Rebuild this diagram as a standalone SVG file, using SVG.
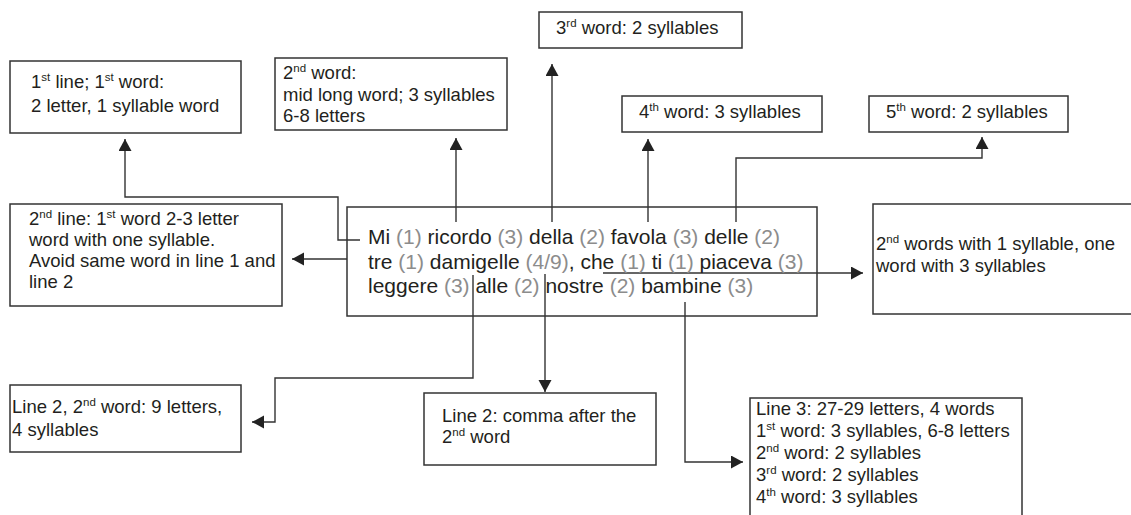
<svg xmlns="http://www.w3.org/2000/svg" width="1131" height="515" viewBox="0 0 1131 515">
<style>
.box{fill:#fff;stroke:#333;stroke-width:1.5}
.t{font-family:"Liberation Sans",Arial,sans-serif;font-size:18.5px;fill:#231f20}
.m{font-family:"Liberation Sans",Arial,sans-serif;font-size:21px;fill:#231f20}
.g{fill:#8c8c8c}
.s{font-size:11.5px}
.c{fill:none;stroke:#333;stroke-width:1.4}
</style>
<defs>
<marker id="ah" markerUnits="userSpaceOnUse" markerWidth="12" markerHeight="14" refX="12" refY="6.5" orient="auto">
<path d="M0,0 L12,6.5 L0,13 z" fill="#222"/>
</marker>
</defs>
<rect width="1131" height="515" fill="#fff"/>

<g id="connectors">
<path class="c" d="M360,240 H338 V197 H125 V139" marker-end="url(#ah)"/>
<path class="c" d="M456,222 V138" marker-end="url(#ah)"/>
<path class="c" d="M552,222 V64" marker-end="url(#ah)"/>
<path class="c" d="M648,222 V139" marker-end="url(#ah)"/>
<path class="c" d="M736,222 V158 H982 V137" marker-end="url(#ah)"/>
<path class="c" d="M347,259 H292" marker-end="url(#ah)"/>
<path class="c" d="M603,273 H863" marker-end="url(#ah)"/>
<path class="c" d="M473,275 V378 H275 V422 H252" marker-end="url(#ah)"/>
<path class="c" d="M545,274 V392" marker-end="url(#ah)"/>
<path class="c" d="M685,302 V462 H743" marker-end="url(#ah)"/>
</g>

<g id="main">
<rect class="box" x="347" y="207" width="470" height="109" fill="none" style="fill:none"/>
<text class="m" x="368" y="244">Mi <tspan class="g">(1)</tspan> ricordo <tspan class="g">(3)</tspan> della <tspan class="g">(2)</tspan> favola <tspan class="g">(3)</tspan> delle <tspan class="g">(2)</tspan></text>
<text class="m" x="368" y="269">tre <tspan class="g">(1)</tspan> damigelle <tspan class="g">(4/9)</tspan>, che <tspan class="g">(1)</tspan> ti <tspan class="g">(1)</tspan> piaceva <tspan class="g">(3)</tspan></text>
<text class="m" x="368" y="293">leggere <tspan class="g">(3)</tspan> alle <tspan class="g">(2)</tspan> nostre <tspan class="g">(2)</tspan> bambine <tspan class="g">(3)</tspan></text>
</g>

<g id="n-line1">
<rect class="box" x="10" y="61" width="231" height="72"/>
<text class="t" x="31" y="88">1<tspan class="s" dy="-7">st</tspan><tspan dy="7"> line; 1</tspan><tspan class="s" dy="-7">st</tspan><tspan dy="7"> word:</tspan></text>
<text class="t" x="31" y="112">2 letter, 1 syllable word</text>
</g>

<g id="n-word2">
<rect class="box" x="275" y="58" width="232" height="72"/>
<text class="t" x="283" y="79">2<tspan class="s" dy="-7">nd</tspan><tspan dy="7"> word:</tspan></text>
<text class="t" x="283" y="101">mid long word; 3 syllables</text>
<text class="t" x="283" y="122">6-8 letters</text>
</g>

<g id="n-word3">
<rect class="box" x="539" y="12" width="203" height="36"/>
<text class="t" x="556" y="34">3<tspan class="s" dy="-7">rd</tspan><tspan dy="7"> word: 2 syllables</tspan></text>
</g>

<g id="n-word4">
<rect class="box" x="622" y="96" width="200" height="36"/>
<text class="t" x="639" y="118">4<tspan class="s" dy="-7">th</tspan><tspan dy="7"> word: 3 syllables</tspan></text>
</g>

<g id="n-word5">
<rect class="box" x="869" y="96" width="199" height="36"/>
<text class="t" x="886" y="118">5<tspan class="s" dy="-7">th</tspan><tspan dy="7"> word: 2 syllables</tspan></text>
</g>

<g id="n-line2">
<rect class="box" x="10" y="204" width="272" height="102"/>
<text class="t" x="29" y="225">2<tspan class="s" dy="-7">nd</tspan><tspan dy="7"> line: 1</tspan><tspan class="s" dy="-7">st</tspan><tspan dy="7"> word 2-3 letter</tspan></text>
<text class="t" x="29" y="246">word with one syllable.</text>
<text class="t" x="29" y="267">Avoid same word in line 1 and</text>
<text class="t" x="29" y="288">line 2</text>
</g>

<g id="n-words">
<rect class="box" x="873" y="204" width="270" height="110"/>
<text class="t" x="876" y="250">2<tspan class="s" dy="-7">nd</tspan><tspan dy="7"> words with 1 syllable, one</tspan></text>
<text class="t" x="876" y="272">word with 3 syllables</text>
</g>

<g id="n-line2word2">
<rect class="box" x="10" y="385" width="231" height="67"/>
<text class="t" x="12" y="413">Line 2, 2<tspan class="s" dy="-7">nd</tspan><tspan dy="7"> word: 9 letters,</tspan></text>
<text class="t" x="12" y="436">4 syllables</text>
</g>

<g id="n-comma">
<rect class="box" x="424" y="393" width="232" height="72"/>
<text class="t" x="442" y="422">Line 2: comma after the</text>
<text class="t" x="442" y="443">2<tspan class="s" dy="-7">nd</tspan><tspan dy="7"> word</tspan></text>
</g>

<g id="n-line3">
<rect class="box" x="750" y="398" width="272" height="130"/>
<text class="t" x="756" y="415">Line 3: 27-29 letters, 4 words</text>
<text class="t" x="756" y="437">1<tspan class="s" dy="-7">st</tspan><tspan dy="7"> word: 3 syllables, 6-8 letters</tspan></text>
<text class="t" x="756" y="459">2<tspan class="s" dy="-7">nd</tspan><tspan dy="7"> word: 2 syllables</tspan></text>
<text class="t" x="756" y="481">3<tspan class="s" dy="-7">rd</tspan><tspan dy="7"> word: 2 syllables</tspan></text>
<text class="t" x="756" y="503">4<tspan class="s" dy="-7">th</tspan><tspan dy="7"> word: 3 syllables</tspan></text>
</g>
</svg>
